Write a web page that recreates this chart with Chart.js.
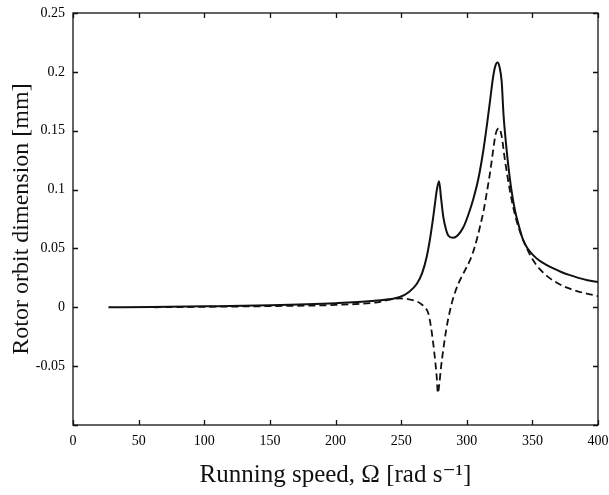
<!DOCTYPE html>
<html>
<head>
<meta charset="utf-8">
<script src="https://cdn.jsdelivr.net/npm/chart.js@4/dist/chart.umd.min.js"></script>
<style>
  html, body { margin: 0; padding: 0; background: #fff; }
  #wrap { width: 609px; height: 495px; position: relative; }
</style>
</head>
<body>
<div id="wrap"><canvas id="orbitChart"></canvas></div>
<script>
// tick values shown on the axes
const xTicks = [0, 50, 100, 150, 200, 250, 300, 350, 400];
const yTicks = [-0.1, -0.05, 0, 0.05, 0.1, 0.15, 0.2, 0.25];
const yTickLabels = ['', '-0.05', '0', '0.05', '0.1', '0.15', '0.2', '0.25'];

// solid curve: running speed [rad/s] and orbit dimension [mm]
const solidSpeed = [27, 60, 100, 150, 200, 230, 249, 256, 262, 266, 269.5, 272, 274.5, 276, 277.1, 278.9,
  280.5, 282.1, 284, 285.9, 289.5, 293, 297.4, 301, 305, 309, 312.6, 315.5, 317.7, 320, 321.5, 323.4,
  325, 326.6, 328, 330, 331.7, 334, 336.8, 340, 343, 346, 350, 355, 360, 366, 372, 378, 385, 392, 400];
const solidAmp = [0, 0.0003, 0.0008, 0.0017, 0.0035, 0.0055, 0.0087, 0.013, 0.02, 0.029, 0.043, 0.058, 0.077, 0.09, 0.099, 0.107,
  0.092, 0.077, 0.067, 0.061, 0.059, 0.061, 0.068, 0.078, 0.092, 0.11, 0.133, 0.156, 0.175, 0.195, 0.204, 0.208,
  0.204, 0.192, 0.164, 0.138, 0.12, 0.1, 0.082, 0.068, 0.057, 0.0505, 0.045, 0.04, 0.0365, 0.033, 0.03, 0.0275, 0.025, 0.023, 0.0215];

// dashed curve
const dashedSpeed = [62, 100, 150, 200, 230, 249, 256, 261.8, 265, 268, 270.7, 272.5, 274.5, 276, 277.1, 278,
  279, 280.5, 282.1, 284.5, 287.2, 290, 293.6, 298, 302.5, 306, 310, 313, 315.2, 317.7, 320.2, 322, 324.5,
  326.5, 329.1, 332.9, 336, 340, 345, 350, 356, 363, 370, 378, 388, 400];
const dashedAmp = [0, 0.0004, 0.001, 0.002, 0.004, 0.0075, 0.0068, 0.005, 0.003, 0, -0.005, -0.015, -0.031, -0.046, -0.059, -0.073,
  -0.066, -0.05, -0.036, -0.018, -0.003, 0.009, 0.02, 0.03, 0.04, 0.051, 0.068, 0.083, 0.097, 0.114, 0.134, 0.147, 0.152,
  0.146, 0.125, 0.099, 0.082, 0.066, 0.052, 0.041, 0.032, 0.025, 0.02, 0.016, 0.0125, 0.0095];

const toPoints = (xs, ys) => xs.map((x, i) => ({ x, y: ys[i] }));

const serif = '"Liberation Serif", "DejaVu Serif", serif';

// box around the plot with the tick marks pointing inward (all four sides)
const frameTicks = {
  id: 'frameTicks',
  afterDraw(chart) {
    const { ctx, chartArea: a, scales: { x, y } } = chart;
    const len = 5;
    ctx.save();
    ctx.strokeStyle = '#111';
    ctx.lineWidth = 1.3;
    ctx.strokeRect(a.left, a.top, a.right - a.left, a.bottom - a.top);
    ctx.beginPath();
    xTicks.forEach(v => {
      const px = Math.round(x.getPixelForValue(v)) + 0.5;
      ctx.moveTo(px, a.bottom); ctx.lineTo(px, a.bottom - len);
      ctx.moveTo(px, a.top); ctx.lineTo(px, a.top + len);
    });
    yTicks.forEach(v => {
      const py = Math.round(y.getPixelForValue(v)) + 0.5;
      ctx.moveTo(a.left, py); ctx.lineTo(a.left + len, py);
      ctx.moveTo(a.right, py); ctx.lineTo(a.right - len, py);
    });
    ctx.stroke();
    ctx.restore();
  }
};

new Chart(document.getElementById('orbitChart'), {
  type: 'line',
  data: {
    datasets: [
      {
        data: toPoints(solidSpeed, solidAmp),
        borderColor: '#111', borderWidth: 2, pointRadius: 0,
        cubicInterpolationMode: 'monotone', fill: false
      },
      {
        data: toPoints(dashedSpeed, dashedAmp),
        borderColor: '#111', borderWidth: 1.8, borderDash: [7, 4], pointRadius: 0,
        cubicInterpolationMode: 'monotone', fill: false
      }
    ]
  },
  options: {
    responsive: true, maintainAspectRatio: false, animation: false,
    layout: { padding: { top: 13, right: 11, left: 0, bottom: 0 } },
    plugins: { legend: { display: false }, tooltip: { enabled: false } },
    scales: {
      x: {
        type: 'linear', min: 0, max: 400,
        afterBuildTicks: s => { s.ticks = xTicks.map(v => ({ value: v })); },
        afterFit: s => { s.height = 70; s.paddingLeft = 0; s.paddingRight = 0; },
        grid: { display: false }, border: { display: false },
        ticks: { color: '#000', padding: 0, maxRotation: 0, font: { family: serif, size: 14 } },
        title: {
          display: true, text: 'Running speed, Ω [rad s⁻¹]', color: '#111',
          font: { family: serif, size: 25 }, padding: { top: 0, bottom: 5 }
        }
      },
      y: {
        min: -0.1, max: 0.25,
        afterBuildTicks: s => { s.ticks = yTicks.map(v => ({ value: v })); },
        afterFit: s => { s.width = 73; s.paddingTop = 0; s.paddingBottom = 0; },
        grid: { display: false }, border: { display: false },
        ticks: {
          color: '#000', padding: 0, font: { family: serif, size: 14 },
          callback: v => yTickLabels[yTicks.findIndex(t => Math.abs(t - v) < 1e-9)]
        },
        title: {
          display: true, text: 'Rotor orbit dimension [mm]', color: '#111',
          font: { family: serif, size: 24 }, padding: { top: 7, bottom: 0 }
        }
      }
    }
  },
  plugins: [frameTicks]
});
</script>
</body>
</html>
